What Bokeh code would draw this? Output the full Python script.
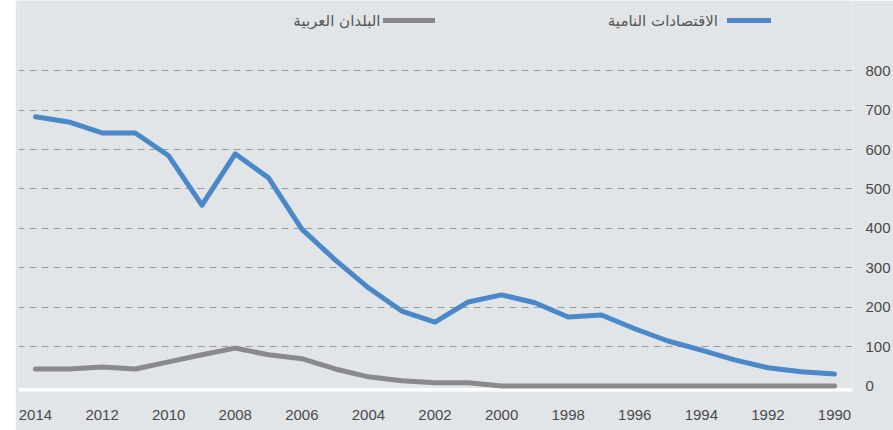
from bokeh.plotting import figure
from bokeh.embed import file_html
from bokeh.resources import INLINE
from bokeh.models import (Range1d, FixedTicker, Legend, LegendItem, Label,
                          BoxAnnotation, Spacer)
from bokeh.layouts import row

years = list(range(2014, 1989, -1))
developing = [683, 670, 642, 642, 584, 459, 589, 528, 398, 320, 249, 190, 162,
              213, 231, 211, 175, 180, 145, 114, 91, 66, 46, 36, 30]
arab = [43, 43, 48, 43, 61, 79, 96, 79, 69, 43, 23, 13, 8, 8, 0, 0, 0, 0, 0,
        0, 0, 0, 0, 0, 0]
name_dev = "الاقتصادات النامية"
name_arab = "البلدان العربية"
x_ticks = list(range(2014, 1989, -2))
y_ticks = [0, 100, 200, 300, 400, 500, 600, 700, 800]

BG = "#e1e5e8"
NUM_FONT = "'Liberation Sans Narrow', 'Liberation Sans', sans-serif"

p = figure(width=878, height=430,
           x_range=Range1d(2014.51, 1989.46), y_range=Range1d(-14.2, 978.2),
           output_backend="svg", toolbar_location=None,
           y_axis_location="right",
           min_border_left=3, min_border_right=41, min_border_top=0,
           min_border_bottom=39)
p.background_fill_color = BG
p.border_fill_color = BG
p.outline_line_color = None

# white band under the plot
p.add_layout(BoxAnnotation(top=-5.5, bottom=-15, fill_color="white",
                           fill_alpha=1, line_alpha=0, level="underlay"))

r_arab = p.line(years, arab, line_width=5, color="#8a8a8a",
                line_cap="round", line_join="round")
r_dev = p.line(years, developing, line_width=5, color="#4a88c9",
               line_cap="round", line_join="round")

p.xgrid.grid_line_color = None
p.ygrid.ticker = FixedTicker(ticks=y_ticks[1:])
p.ygrid.grid_line_color = "#9a9a9a"
p.ygrid.grid_line_dash = "7 5"
p.ygrid.grid_line_width = 1

xa = p.xaxis[0]
xa.ticker = FixedTicker(ticks=x_ticks)
xa.axis_line_color = None
xa.major_tick_line_color = None
xa.minor_tick_line_color = None
xa.major_label_standoff = 12
xa.major_label_text_font = NUM_FONT
xa.major_label_text_font_size = "15px"
xa.major_label_text_color = "#4a4a4a"

ya = p.yaxis[0]
ya.ticker = FixedTicker(ticks=y_ticks)
ya.axis_line_color = None
ya.major_tick_line_color = None
ya.minor_tick_line_color = None
ya.major_label_standoff = 7
ya.major_label_text_font = NUM_FONT
ya.major_label_text_font_size = "15px"
ya.major_label_text_color = "#4a4a4a"

# legend swatches (RTL: swatch to the right of its text)
common = dict(orientation="horizontal", glyph_height=8, label_width=0,
              label_height=8, label_standoff=0, padding=0, margin=0,
              border_line_alpha=0, background_fill_alpha=0, spacing=0)
p.add_layout(Legend(items=[LegendItem(label="", renderers=[r_dev])],
                    location=(709, 367), glyph_width=44, **common))
p.add_layout(Legend(items=[LegendItem(label="", renderers=[r_arab])],
                    location=(365, 367), glyph_width=52, **common))

p.add_layout(Label(x=1993.5, y=927, text=name_dev, text_align="right",
                   text_baseline="middle", text_font="DejaVu Sans",
                   text_font_size="15px", text_color="#555555"))
p.add_layout(Label(x=2003.64, y=927, text=name_arab, text_align="right",
                   text_baseline="middle", text_font="DejaVu Sans",
                   text_font_size="15px", text_color="#555555"))

layout = row(Spacer(width=15, height=430), p)
open("out.html", "w").write(file_html(layout, INLINE))
